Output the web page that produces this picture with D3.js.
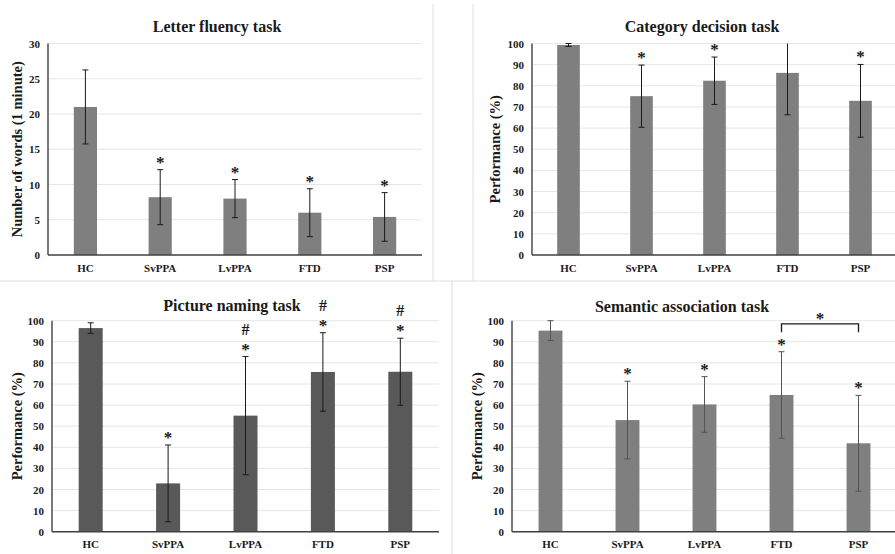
<!DOCTYPE html>
<html>
<head>
<meta charset="utf-8">
<script src="https://cdn.jsdelivr.net/npm/d3@7"></script>
<style>
  html, body { margin: 0; padding: 0; background: #ffffff; }
  svg { display: block; }
</style>
</head>
<body>
<svg id="chart" width="895" height="554"></svg>
<script>
// ---------- DATA ----------
const categories = ["HC", "SvPPA", "LvPPA", "FTD", "PSP"];

const letterTitle = "Letter fluency task";
const letterYLabel = "Number of words (1 minute)";
const letterTicks = [0, 5, 10, 15, 20, 25, 30];
const letterMeans = [21.0, 8.2, 8.0, 6.0, 5.4];
const letterSD = [5.25, 3.9, 2.7, 3.4, 3.45];
const letterMarks = ["", "*", "*", "*", "*"];

const categoryTitle = "Category decision task";
const categoryYLabel = "Performance (%)";
const percentTicks = [0, 10, 20, 30, 40, 50, 60, 70, 80, 90, 100];
const categoryMeans = [99.3, 75.1, 82.4, 86.1, 72.9];
const categorySD = [0.7, 14.7, 11.2, 19.8, 17.2];
const categoryMarks = ["", "*", "*", "", "*"];

const pictureTitle = "Picture naming task";
const pictureYLabel = "Performance (%)";
const pictureMeans = [96.5, 22.9, 55.0, 75.7, 75.8];
const pictureSD = [2.5, 18.2, 28.0, 18.6, 15.9];
const pictureMarks = ["", "*", "*#", "*#", "*#"];

const semanticTitle = "Semantic association task";
const semanticYLabel = "Performance (%)";
const semanticMeans = [95.3, 52.9, 60.3, 64.8, 41.9];
const semanticSD = [4.7, 18.4, 13.2, 20.5, 22.7];
const semanticMarks = ["", "*", "*", "*", "*"];
const semanticBracket = { from: "FTD", to: "PSP", top: 98.5, end: 94.5, label: "*" };

// ---------- LAYOUT / STYLE ----------
const FONT = "'Liberation Serif', 'Times New Roman', 'DejaVu Serif', serif";
const panels = [
  { title: letterTitle, yLabel: letterYLabel, ticks: letterTicks, means: letterMeans, sd: letterSD, marks: letterMarks,
    x0: 48, x1: 422, yTop: 43.5, yBot: 255, titleX: 217, titleY: 32, labelX: 17,
    barColor: "#7f7f7f", errColor: "#1a1a1a" },
  { title: categoryTitle, yLabel: categoryYLabel, ticks: percentTicks, means: categoryMeans, sd: categorySD, marks: categoryMarks,
    x0: 532, x1: 897, yTop: 43.5, yBot: 255, titleX: 702, titleY: 32, labelX: 495,
    barColor: "#7f7f7f", errColor: "#1a1a1a" },
  { title: pictureTitle, yLabel: pictureYLabel, ticks: percentTicks, means: pictureMeans, sd: pictureSD, marks: pictureMarks,
    x0: 52, x1: 439, yTop: 320.7, yBot: 531.7, titleX: 232, titleY: 311, labelX: 17,
    barColor: "#595959", errColor: "#1a1a1a" },
  { title: semanticTitle, yLabel: semanticYLabel, ticks: percentTicks, means: semanticMeans, sd: semanticSD, marks: semanticMarks,
    x0: 512, x1: 897, yTop: 320.7, yBot: 531.7, titleX: 682, titleY: 312, labelX: 477,
    barColor: "#7f7f7f", errColor: "#555555", bracket: semanticBracket }
];

const svg = d3.select("#chart");

function txt(sel, size) {
  return sel.attr("font-family", FONT).attr("font-weight", "bold")
    .attr("font-size", size).attr("fill", "#1a1a1a");
}

// panel separator lines
const sepColor = "#dedede";
[[433, 4, 433, 281], [473, 4, 473, 281], [0, 281, 895, 281], [452, 281, 452, 554]].forEach(([a, b, c, d]) => {
  svg.append("line").attr("x1", a).attr("y1", b).attr("x2", c).attr("y2", d)
    .attr("stroke", sepColor).attr("stroke-width", 1);
});

panels.forEach(p => {
  const g = svg.append("g");
  const x = d3.scaleBand().domain(categories).range([p.x0, p.x1])
    .paddingInner(0.69).paddingOuter(0.345);
  const maxV = d3.max(p.ticks);
  const y = d3.scaleLinear().domain([0, maxV]).range([p.yBot, p.yTop]);

  // gridlines
  g.append("g").selectAll("line").data(p.ticks.filter(t => t > 0)).join("line")
    .attr("x1", p.x0).attr("x2", p.x1)
    .attr("y1", d => y(d)).attr("y2", d => y(d))
    .attr("stroke", "#e6e6e6").attr("stroke-width", 1);

  // y axis (labels only, no ticks)
  const yAxis = d3.axisLeft(y).tickValues(p.ticks).tickSize(0).tickPadding(8);
  const ya = g.append("g").attr("transform", `translate(${p.x0},0)`).call(yAxis)
    .attr("font-family", FONT);
  ya.select(".domain").remove();
  txt(ya.selectAll("text"), 11);

  // x axis labels
  const xAxis = d3.axisBottom(x).tickSize(0).tickPadding(9);
  const xa = g.append("g").attr("transform", `translate(0,${p.yBot})`).call(xAxis)
    .attr("font-family", FONT);
  xa.select(".domain").remove();
  txt(xa.selectAll("text"), 11);

  // bars
  g.append("g").selectAll("rect").data(categories).join("rect")
    .attr("x", d => x(d))
    .attr("width", x.bandwidth())
    .attr("y", (d, i) => y(p.means[i]))
    .attr("height", (d, i) => p.yBot - y(p.means[i]))
    .attr("fill", p.barColor);

  // axis lines
  g.append("line").attr("x1", p.x0).attr("x2", p.x0).attr("y1", p.yTop).attr("y2", p.yBot)
    .attr("stroke", "#404040").attr("stroke-width", 1.4);
  g.append("line").attr("x1", p.x0).attr("x2", p.x1).attr("y1", p.yBot).attr("y2", p.yBot)
    .attr("stroke", "#404040").attr("stroke-width", 1.4);

  // error bars
  const eb = g.append("g").attr("stroke", p.errColor).attr("stroke-width", 1);
  categories.forEach((c, i) => {
    const cx = x(c) + x.bandwidth() / 2;
    const lo = Math.max(0, p.means[i] - p.sd[i]);
    const hiRaw = p.means[i] + p.sd[i];
    const hi = Math.min(maxV, hiRaw);
    eb.append("line").attr("x1", cx).attr("x2", cx).attr("y1", y(lo)).attr("y2", y(hi));
    eb.append("line").attr("x1", cx - 3).attr("x2", cx + 3).attr("y1", y(lo)).attr("y2", y(lo));
    if (hiRaw <= maxV + 0.01) {
      eb.append("line").attr("x1", cx - 3).attr("x2", cx + 3).attr("y1", y(hi)).attr("y2", y(hi));
    }
    // significance marks
    const capY = y(hi);
    const m = p.marks[i];
    if (m.includes("*")) {
      txt(g.append("text"), 17).attr("x", cx).attr("y", capY - 2).attr("text-anchor", "middle").text("*");
    }
    if (m.includes("#")) {
      txt(g.append("text"), 16).attr("x", cx).attr("y", capY - 22).attr("text-anchor", "middle").text("#");
    }
  });

  // bracket
  if (p.bracket) {
    const b = p.bracket;
    const xa1 = x(b.from) + x.bandwidth() / 2;
    const xa2 = x(b.to) + x.bandwidth() / 2;
    g.append("path")
      .attr("d", `M${xa1},${y(b.end)} L${xa1},${y(b.top)} L${xa2},${y(b.top)} L${xa2},${y(b.end)}`)
      .attr("fill", "none").attr("stroke", "#1a1a1a").attr("stroke-width", 1.3);
    txt(g.append("text"), 17).attr("x", (xa1 + xa2) / 2).attr("y", y(b.top))
      .attr("text-anchor", "middle").text(b.label);
  }

  // title
  txt(g.append("text"), 16).attr("x", p.titleX).attr("y", p.titleY)
    .attr("text-anchor", "middle").text(p.title);

  // y label
  const cy = (p.yTop + p.yBot) / 2;
  txt(g.append("text"), 14.5).attr("transform", `translate(${p.labelX},${cy}) rotate(-90)`)
    .attr("text-anchor", "middle").attr("dominant-baseline", "central").text(p.yLabel);
});
</script>
</body>
</html>
